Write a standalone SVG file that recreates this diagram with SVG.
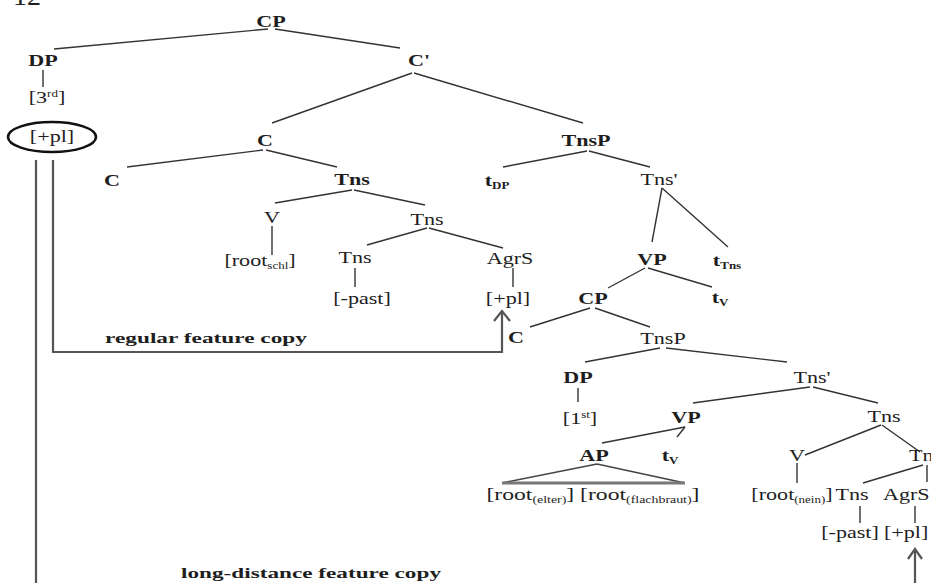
<svg xmlns="http://www.w3.org/2000/svg" width="931" height="583" viewBox="0 0 931 583">
<style>
text{font-family:"Liberation Serif","Times New Roman",serif;fill:#1e1e1e;font-size:17px}
.n{text-anchor:middle}
.b{font-weight:bold}
.s{text-anchor:start}
.sub{font-size:10px}
.cap{font-weight:bold;font-size:15px}
.pg{font-size:28px}
.tree line,.tree path{stroke:#333;stroke-width:1.4;fill:none}
.copy path{stroke:#555;stroke-width:2.2;fill:none}
.tri{stroke:#444;stroke-width:1.6;fill:none}
.tribase{stroke:#777;stroke-width:3}
</style>
<rect width="931" height="583" fill="#fff"/>
<text class="pg" x="13" y="5">12</text>

<g id="connectors" class="tree">
<line x1="268" y1="29" x2="54" y2="49"/>
<line x1="275" y1="29" x2="400" y2="48"/>
<line x1="43" y1="70" x2="43" y2="87"/>
<line x1="412" y1="73" x2="272" y2="123"/>
<line x1="414" y1="73" x2="583" y2="123"/>
<line x1="263" y1="150" x2="127" y2="167"/>
<line x1="266" y1="150" x2="337" y2="167"/>
<line x1="587" y1="151" x2="503" y2="167"/>
<line x1="589" y1="151" x2="650" y2="167"/>
<line x1="352" y1="190" x2="275" y2="203"/>
<line x1="354" y1="190" x2="425" y2="205"/>
<line x1="272" y1="226" x2="272" y2="255"/>
<line x1="662" y1="188" x2="652" y2="242"/>
<line x1="662" y1="188" x2="728" y2="247"/>
<line x1="427" y1="228" x2="367" y2="245"/>
<line x1="429" y1="228" x2="503" y2="248"/>
<line x1="355" y1="268" x2="355" y2="287"/>
<line x1="513" y1="268" x2="513" y2="287"/>
<line x1="645" y1="268" x2="608" y2="288"/>
<line x1="648" y1="268" x2="712" y2="287"/>
<line x1="590" y1="308" x2="530" y2="327"/>
<line x1="595" y1="308" x2="650" y2="327"/>
<line x1="660" y1="348" x2="585" y2="362"/>
<line x1="666" y1="348" x2="787" y2="362"/>
<line x1="578" y1="388" x2="578" y2="402"/>
<line x1="810" y1="387" x2="693" y2="403"/>
<line x1="813" y1="387" x2="878" y2="403"/>
<line x1="685" y1="427" x2="602" y2="443"/>
<line x1="685" y1="427" x2="677" y2="437"/>
<line x1="881" y1="425" x2="805" y2="455"/>
<line x1="882" y1="425" x2="920" y2="452"/>
<line x1="797" y1="463" x2="797" y2="483"/>
<line x1="923" y1="465" x2="863" y2="483"/>
<line x1="927" y1="465" x2="927" y2="482"/>
<line x1="860" y1="506" x2="860" y2="523"/>
<line x1="915" y1="506" x2="915" y2="523"/>
</g>

<g id="copy-arrows" class="copy">
<path d="M36,160 L36,590"/>
<path d="M53,160 L53,352 L502,352 L502,312"/>
<path d="M494,321 L502,311 L510,321"/>
<path d="M915,590 L915,550"/>
<path d="M908,559 L915,549 L922,559"/>
</g>

<g id="n-cp"><text class="n b" transform="translate(271,27) scale(1.3,1)">CP</text></g>
<g id="n-dp"><text class="n b" transform="translate(43,66) scale(1.3,1)">DP</text></g>
<g id="n-3rd"><text class="n" transform="translate(47,103) scale(1.3,1)">[3<tspan class="sub" dy="-6">rd</tspan><tspan dy="6">]</tspan></text></g>
<g id="n-pl-top"><ellipse cx="52" cy="137" rx="44" ry="15" fill="none" stroke="#111" stroke-width="2.6"/><text class="n" transform="translate(52,142) scale(1.3,1)">[+pl]</text></g>
<g id="n-cbar"><text class="n b" transform="translate(419,66) scale(1.3,1)">C'</text></g>
<g id="n-c1"><text class="n b" transform="translate(265,146) scale(1.3,1)">C</text></g>
<g id="n-tnsp1"><text class="n b" transform="translate(586,146) scale(1.3,1)">TnsP</text></g>
<g id="n-c2"><text class="n b" transform="translate(112,186) scale(1.3,1)">C</text></g>
<g id="n-tns1"><text class="n b" transform="translate(352,185) scale(1.3,1)">Tns</text></g>
<g id="n-tdp"><text class="n b" transform="translate(497,186) scale(1.3,1)">t<tspan class="sub" dy="3">DP</tspan></text></g>
<g id="n-tnsbar1"><text class="n" transform="translate(659,185) scale(1.3,1)">Tns'</text></g>
<g id="n-v1"><text class="n" transform="translate(272,223) scale(1.3,1)">V</text></g>
<g id="n-tns2"><text class="n" transform="translate(427,225) scale(1.3,1)">Tns</text></g>
<g id="n-root-schl"><text class="n" transform="translate(260,266) scale(1.3,1)">[root<tspan class="sub" dy="3">schl</tspan><tspan dy="-3">]</tspan></text></g>
<g id="n-tns3"><text class="n" transform="translate(355,263) scale(1.3,1)">Tns</text></g>
<g id="n-agrs1"><text class="n" transform="translate(510,264) scale(1.3,1)">AgrS</text></g>
<g id="n-vp1"><text class="n b" transform="translate(652,265) scale(1.3,1)">VP</text></g>
<g id="n-ttns"><text class="n b" transform="translate(727,266) scale(1.3,1)">t<tspan class="sub" dy="3">Tns</tspan></text></g>
<g id="n-past1"><text class="n" transform="translate(362,304) scale(1.3,1)">[-past]</text></g>
<g id="n-pl1"><text class="n" transform="translate(508,304) scale(1.3,1)">[+pl]</text></g>
<g id="n-cp2"><text class="n b" transform="translate(593,304) scale(1.3,1)">CP</text></g>
<g id="n-tv1"><text class="n b" transform="translate(720,303) scale(1.3,1)">t<tspan class="sub" dy="3">V</tspan></text></g>
<g id="lbl-regular"><text class="cap" x="105" y="343" textLength="202" lengthAdjust="spacingAndGlyphs">regular feature copy</text></g>
<g id="n-c3"><text class="n b" transform="translate(516,343) scale(1.3,1)">C</text></g>
<g id="n-tnsp2"><text class="n" transform="translate(663,344) scale(1.3,1)">TnsP</text></g>
<g id="n-dp2"><text class="n b" transform="translate(578,383) scale(1.3,1)">DP</text></g>
<g id="n-tnsbar2"><text class="n" transform="translate(812,383) scale(1.3,1)">Tns'</text></g>
<g id="n-1st"><text class="n" transform="translate(580,424) scale(1.3,1)">[1<tspan class="sub" dy="-6">st</tspan><tspan dy="6">]</tspan></text></g>
<g id="n-vp2"><text class="n b" transform="translate(686,423) scale(1.3,1)">VP</text></g>
<g id="n-tns4"><text class="n" transform="translate(884,422) scale(1.3,1)">Tns</text></g>
<g id="n-ap"><text class="n b" transform="translate(594,461) scale(1.3,1)">AP</text>
<path class="tri" d="M597,464 L502,483 M597,464 L685,483"/><line class="tribase" x1="502" y1="483" x2="685" y2="483"/></g>
<g id="n-tv2"><text class="n b" transform="translate(670,461) scale(1.3,1)">t<tspan class="sub" dy="3">V</tspan></text></g>
<g id="n-v2"><text class="n" transform="translate(797,461) scale(1.3,1)">V</text></g>
<g id="n-tns5"><text class="s" transform="translate(909,461) scale(1.3,1)">Tns</text></g>
<g id="n-root-pair"><text class="n" x="593" y="500" textLength="213" lengthAdjust="spacingAndGlyphs">[root<tspan class="sub" dy="3">(elter)</tspan><tspan dy="-3">] [root</tspan><tspan class="sub" dy="3">(flachbraut)</tspan><tspan dy="-3">]</tspan></text></g>
<g id="n-root-nein"><text class="n" transform="translate(792,500) scale(1.3,1)">[root<tspan class="sub" dy="3">(nein)</tspan><tspan dy="-3">]</tspan></text></g>
<g id="n-tns6"><text class="n" transform="translate(852,500) scale(1.3,1)">Tns</text></g>
<g id="n-agrs2"><text class="s" transform="translate(883,500) scale(1.3,1)">AgrS</text></g>
<g id="n-past2"><text class="n" transform="translate(850,538) scale(1.3,1)">[-past]</text></g>
<g id="n-pl2"><text class="s" transform="translate(884,538) scale(1.3,1)">[+pl]</text></g>
<g id="lbl-long"><text class="cap" x="181" y="578" textLength="260" lengthAdjust="spacingAndGlyphs">long-distance feature copy</text></g>
</svg>
